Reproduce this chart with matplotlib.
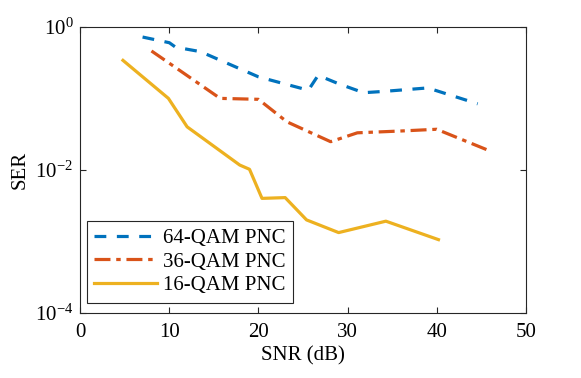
import math
import matplotlib
matplotlib.use("Agg")
import matplotlib.pyplot as plt
from matplotlib.ticker import FixedLocator, NullLocator, FuncFormatter

plt.rcParams.update({
    "font.family": "Liberation Serif",
    "mathtext.fontset": "custom",
    "mathtext.rm": "Liberation Serif",
    "mathtext.it": "Liberation Serif:italic",
    "font.size": 15,
    "xtick.direction": "in",
    "ytick.direction": "in",
    "xtick.top": True,
    "ytick.right": True,
})

# 64-QAM PNC
snr_64 = [7, 10, 10.7, 13.5, 20, 25.6, 26.7, 29, 31.8, 34, 39, 44.6]
ser_64 = [0.72, 0.60, 0.52, 0.45, 0.20, 0.13, 0.21, 0.16, 0.12, 0.125, 0.14, 0.084]

# 36-QAM PNC
snr_36 = [8, 10, 15.7, 20, 23.2, 28.1, 31.1, 36, 40, 45.7]
ser_36 = [0.46, 0.31, 0.10, 0.097, 0.047, 0.0248, 0.033, 0.035, 0.037, 0.019]

# 16-QAM PNC
snr_16 = [4.8, 9.9, 12, 17.9, 19.0, 20.4, 23.0, 25.4, 29, 34.3, 40.2]
ser_16 = [0.34, 0.10, 0.040, 0.0117, 0.0102, 0.0040, 0.0041, 0.0020, 0.00133, 0.00192, 0.00106]

fig = plt.figure(figsize=(5.81, 3.78), dpi=100)
ax = fig.add_axes([0.138, 0.172, 0.767, 0.757])

lw = 2.3
ax.semilogy(snr_64, ser_64, color="#0072BD", lw=lw, dashes=(3.7, 3.3), label="64-QAM PNC")
ax.semilogy(snr_36, ser_36, color="#D95319", lw=lw, dashes=(5, 1.8, 1.4, 1.8), label="36-QAM PNC")
ax.semilogy(snr_16, ser_16, color="#EDB120", lw=lw, label="16-QAM PNC")

ax.set_xlim(0, 50)
ax.set_ylim(1e-4, 1)
ax.set_xticks([0, 10, 20, 30, 40, 50])
ax.yaxis.set_major_locator(FixedLocator([1e-4, 1e-2, 1]))
ax.yaxis.set_minor_locator(NullLocator())
ax.yaxis.set_major_formatter(FuncFormatter(
    lambda v, p: r"$10^{%d}$" % round(math.log10(v))))

for s in ax.spines.values():
    s.set_color("#262626")
    s.set_linewidth(0.8)
ax.tick_params(which="major", length=4, width=0.8, color="#262626", labelsize=15)
ax.tick_params(axis="x", pad=7)
ax.tick_params(axis="y", pad=5)

ax.set_xlabel("SNR (dB)", fontsize=15, labelpad=3)
ax.set_ylabel("SER", fontsize=15, labelpad=4)

leg = ax.legend(loc="lower left", fontsize=15, fancybox=False, framealpha=1,
                edgecolor="#262626", borderpad=0.35, handlelength=3.0,
                handletextpad=0.3, labelspacing=0.2, borderaxespad=0,
                bbox_to_anchor=(0.015, 0.036))
leg.get_frame().set_linewidth(0.8)

fig.savefig("out.png", dpi=100)
